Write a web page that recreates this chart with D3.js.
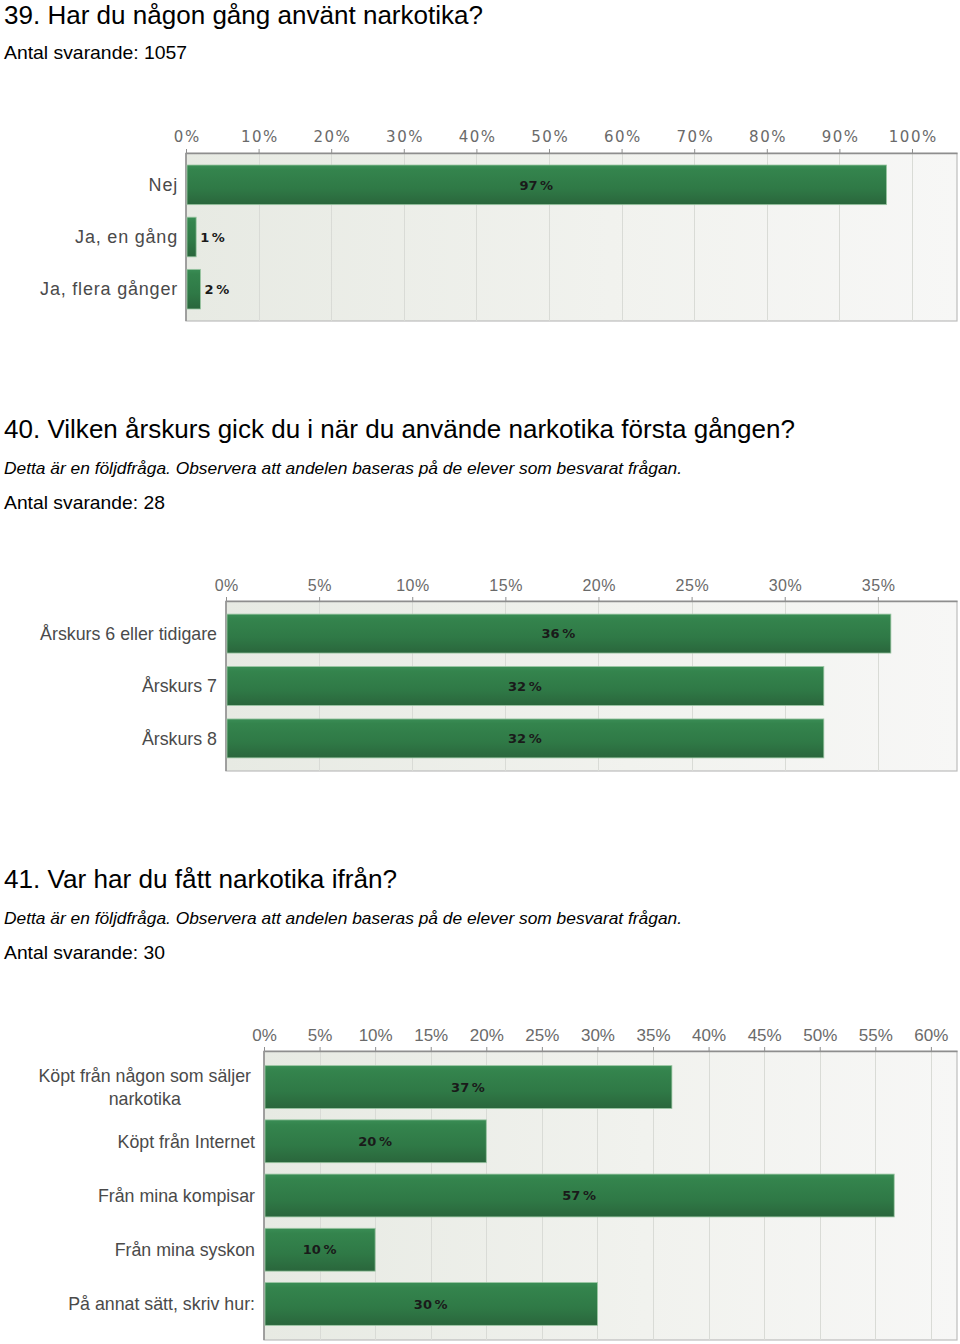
<!DOCTYPE html>
<html>
<head>
<meta charset="utf-8">
<script src="https://cdn.jsdelivr.net/npm/d3@7/dist/d3.min.js"></script>
<style>
  html, body { margin: 0; padding: 0; background: #ffffff; }
  svg { display: block; }
</style>
</head>
<body>
<script>
// ---------- DATA ----------
const q39Title = "39. Har du någon gång använt narkotika?";
const q39Respondents = "Antal svarande: 1057";
const q39Categories = ["Nej", "Ja, en gång", "Ja, flera gånger"];
const q39Values = [96.5, 1.4, 2.0];
const q39Ticks = [0, 10, 20, 30, 40, 50, 60, 70, 80, 90, 100];

const q40Title = "40. Vilken årskurs gick du i när du använde narkotika första gången?";
const q40Note = "Detta är en följdfråga. Observera att andelen baseras på de elever som besvarat frågan.";
const q40Respondents = "Antal svarande: 28";
const q40Categories = ["Årskurs 6 eller tidigare", "Årskurs 7", "Årskurs 8"];
const q40Values = [35.7, 32.1, 32.1];
const q40Ticks = [0, 5, 10, 15, 20, 25, 30, 35];

const q41Title = "41. Var har du fått narkotika ifrån?";
const q41Note = "Detta är en följdfråga. Observera att andelen baseras på de elever som besvarat frågan.";
const q41Respondents = "Antal svarande: 30";
const q41Categories = ["Köpt från någon som säljer narkotika", "Köpt från Internet", "Från mina kompisar", "Från mina syskon", "På annat sätt, skriv hur:"];
const q41Values = [36.7, 20.0, 56.7, 10.0, 30.0];
const q41Ticks = [0, 5, 10, 15, 20, 25, 30, 35, 40, 45, 50, 55, 60];

// ---------- LAYOUT ----------
const W = 960, H = 1344;
const svg = d3.select("body").append("svg").attr("width", W).attr("height", H);
const defs = svg.append("defs");

const bg = defs.append("linearGradient").attr("id", "plotbg").attr("x1", "0").attr("x2", "1").attr("y1", "0").attr("y2", "0");
bg.append("stop").attr("offset", "0%").attr("stop-color", "#e7eae3");
bg.append("stop").attr("offset", "55%").attr("stop-color", "#f1f2ee");
bg.append("stop").attr("offset", "100%").attr("stop-color", "#f7f7f6");

const bar = defs.append("linearGradient").attr("id", "bargrad").attr("x1", "0").attr("x2", "0").attr("y1", "0").attr("y2", "1");
bar.append("stop").attr("offset", "0%").attr("stop-color", "#3a8d55");
bar.append("stop").attr("offset", "12%").attr("stop-color", "#34844d");
bar.append("stop").attr("offset", "60%").attr("stop-color", "#2f7946");
bar.append("stop").attr("offset", "100%").attr("stop-color", "#2a663c");

const HEAD_FONT = "'Liberation Sans', Arial, sans-serif";

function fitText(x, y, str, size, width, opts = {}) {
  const t = svg.append("text")
    .attr("x", x).attr("y", y)
    .attr("font-family", HEAD_FONT)
    .attr("font-size", size)
    .attr("fill", "#000")
    .attr("textLength", width)
    .attr("lengthAdjust", "spacingAndGlyphs")
    .text(str);
  if (opts.italic) t.attr("font-style", "italic");
  return t;
}

// Headings
fitText(4, 24, q39Title, 26, 479);
fitText(4, 59, q39Respondents, 19, 183);

fitText(4, 438, q40Title, 26, 791);
fitText(4, 474, q40Note, 17, 678, { italic: true });
fitText(4, 509, q40Respondents, 19, 161);

fitText(4, 888, q41Title, 26, 393);
fitText(4, 924, q41Note, 17, 678, { italic: true });
fitText(4, 959, q41Respondents, 19, 161);

function drawChart(cfg) {
  const x = d3.scaleLinear().domain([0, cfg.xMax]).range([cfg.left, cfg.right]);
  const y = d3.scaleBand().domain(cfg.categories).range([cfg.top, cfg.bottom])
    .paddingInner(cfg.padIn).paddingOuter(cfg.padOut);
  const g = svg.append("g");

  // background
  g.append("rect")
    .attr("x", cfg.left).attr("y", cfg.top)
    .attr("width", cfg.right - cfg.left).attr("height", cfg.bottom - cfg.top)
    .attr("fill", "url(#plotbg)")
    .attr("stroke", "#bdbdbd").attr("stroke-width", 1.2);

  // gridlines
  g.append("g").selectAll("line").data(cfg.ticks.filter(t => t > 0)).join("line")
    .attr("x1", d => Math.round(x(d)) + 0.5).attr("x2", d => Math.round(x(d)) + 0.5)
    .attr("y1", cfg.top).attr("y2", cfg.bottom)
    .attr("stroke", "#d9dbd6").attr("stroke-width", 1);

  // axis on top
  const ax = g.append("g").attr("transform", `translate(0,${cfg.top})`)
    .call(d3.axisTop(x).tickValues(cfg.ticks).tickFormat(d => d + "%").tickSize(4).tickSizeOuter(0));
  ax.select(".domain").attr("stroke", "#8e8e8e").attr("stroke-width", 1.5);
  ax.selectAll(".tick line").attr("stroke", "#8e8e8e");
  ax.selectAll(".tick text")
    .attr("font-family", cfg.tickFont)
    .attr("font-size", cfg.tickSize)
    .attr("letter-spacing", cfg.tickSpacing)
    .attr("fill", "#6a6a6a")
    .attr("dy", 0)
    .attr("y", -(cfg.top - cfg.tickBaseline))
    .attr("dx", cfg.tickSpacing / 2);

  // left axis line
  g.append("line")
    .attr("x1", cfg.left).attr("x2", cfg.left)
    .attr("y1", cfg.top).attr("y2", cfg.bottom)
    .attr("stroke", "#8e8e8e").attr("stroke-width", 1.5);

  // bars
  const rows = cfg.categories.map((c, i) => ({ c, v: cfg.values[i] }));
  g.append("g").selectAll("rect").data(rows).join("rect")
    .attr("x", x(0) + 1)
    .attr("y", d => y(d.c))
    .attr("width", d => x(d.v) - x(0) - 1)
    .attr("height", y.bandwidth())
    .attr("fill", "url(#bargrad)")
    .attr("stroke", "#9cc7a4").attr("stroke-width", 0.8);

  // value labels
  const vl = g.append("g").selectAll("text").data(rows).join("text")
    .attr("font-family", "'DejaVu Sans', Verdana, sans-serif")
    .attr("font-weight", "bold")
    .attr("font-size", 13)
    .attr("fill", "#1a1a1a")
    .attr("dy", "0.36em")
    .attr("y", d => y(d.c) + y.bandwidth() / 2)
    .text(d => Math.round(d.v) + "\u2009%");
  vl.each(function (d) {
    const w = this.getComputedTextLength();
    const bw = x(d.v) - x(0);
    const el = d3.select(this);
    if (bw > w + 10) {
      el.attr("text-anchor", "middle").attr("x", (x(0) + x(d.v)) / 2);
    } else {
      el.attr("text-anchor", "start").attr("x", x(d.v) + 4);
    }
  });

  // category labels (with wrapping)
  const labelRight = cfg.left - cfg.labelGap;
  rows.forEach(d => {
    const t = g.append("text")
      .attr("font-family", "'Liberation Sans', Arial, sans-serif")
      .attr("font-size", cfg.labelSize)
      .attr("letter-spacing", cfg.labelSpacing)
      .attr("fill", "#4a4a4a");
    const words = d.c.split(" ");
    const lines = [];
    let cur = [];
    const probe = t.append("tspan");
    words.forEach(wd => {
      const test = cur.concat([wd]).join(" ");
      probe.text(test);
      if (probe.node().getComputedTextLength() > cfg.labelMaxW && cur.length) {
        lines.push(cur.join(" "));
        cur = [wd];
      } else cur.push(wd);
    });
    lines.push(cur.join(" "));
    probe.remove();
    const cy = y(d.c) + y.bandwidth() / 2;
    if (lines.length === 1) {
      t.attr("text-anchor", "end").attr("x", labelRight).attr("y", cy).attr("dy", "0.35em").text(lines[0]);
    } else {
      const widths = lines.map(l => { const s = t.append("tspan").text(l); const w = s.node().getComputedTextLength(); s.remove(); return w; });
      const maxW = d3.max(widths);
      const cx = labelRight - cfg.wrapInset - maxW / 2;
      t.attr("text-anchor", "middle");
      const lh = cfg.lineHeight;
      lines.forEach((l, i) => {
        t.append("tspan").attr("x", cx)
          .attr("y", cy + (i - (lines.length - 1) / 2) * lh)
          .attr("dy", "0.35em").text(l);
      });
    }
  });
}

drawChart({
  categories: q39Categories, values: q39Values, ticks: q39Ticks,
  left: 186, right: 957, top: 153, bottom: 321, xMax: 106.2,
  padIn: 0.24, padOut: 0.23,
  tickFont: "'DejaVu Sans', Verdana, sans-serif", tickSize: 15, tickSpacing: 1.5, tickBaseline: 142,
  labelGap: 8, labelSize: 18, labelSpacing: 0.8, labelMaxW: 200, lineHeight: 23, wrapInset: 0
});

drawChart({
  categories: q40Categories, values: q40Values, ticks: q40Ticks,
  left: 226, right: 957, top: 601, bottom: 771, xMax: 39.25,
  padIn: 0.257, padOut: 0.25,
  tickFont: "'Liberation Sans', Arial, sans-serif", tickSize: 16, tickSpacing: 0.5, tickBaseline: 591,
  labelGap: 9, labelSize: 17.8, labelSpacing: 0, labelMaxW: 215, lineHeight: 23, wrapInset: 0
});

drawChart({
  categories: q41Categories, values: q41Values, ticks: q41Ticks,
  left: 264, right: 957, top: 1051, bottom: 1340, xMax: 62.35,
  padIn: 0.21, padOut: 0.27,
  tickFont: "'Liberation Sans', Arial, sans-serif", tickSize: 17, tickSpacing: 0, tickBaseline: 1041,
  labelGap: 9, labelSize: 17.8, labelSpacing: 0, labelMaxW: 225, lineHeight: 23, wrapInset: 4
});
</script>
</body>
</html>
